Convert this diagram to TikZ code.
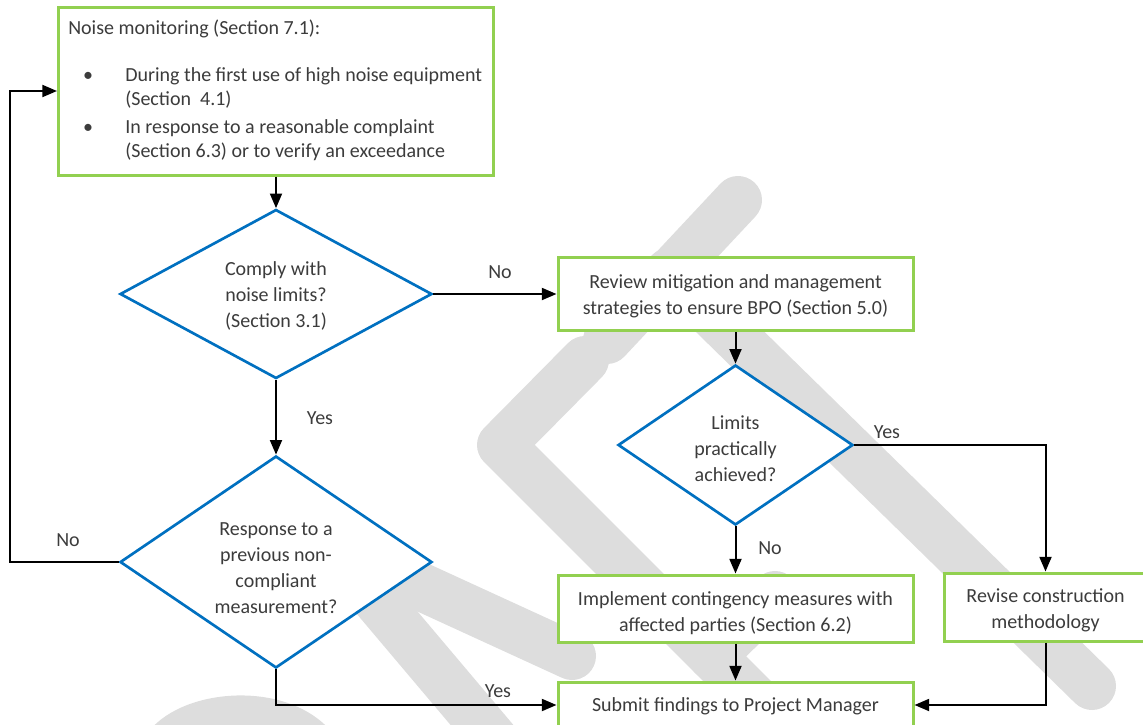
\documentclass[tikz,border=0pt]{standalone}
\usepackage{fontspec}
\setmainfont{Carlito}
\usetikzlibrary{shapes.geometric,arrows.meta}
\definecolor{boxgreen}{RGB}{146,208,80}
\definecolor{dblue}{RGB}{0,112,192}
\definecolor{txt}{RGB}{60,60,60}
\definecolor{wm}{RGB}{221,221,221}
\begin{document}
\begin{tikzpicture}[x=0.75pt,y=-0.75pt,
  box/.style={rectangle, draw=boxgreen, line width=2.25pt, fill=white, inner sep=0pt},
  dec/.style={diamond, draw=dblue, line width=2pt, fill=white, inner sep=0pt},
  lbl/.style={text=txt, font=\fontsize{15}{19.5}\selectfont, align=center, inner sep=0pt},
  arr/.style={draw=black, line width=1.5pt, -{Triangle[length=11pt,width=9pt]}},
  wmark/.style={draw=wm, line width=36pt, line cap=round, line join=round}]
\useasboundingbox (0,0) rectangle (1143,725);
% watermark
\draw[wmark] (738,200) -- (607,340);
\draw[wmark] (669,272) -- (1092,686);
\draw[wmark] (585,360) -- (501,445) -- (901,845);
\draw[wmark] (712,656) -- (775,595);
\draw[wmark] (330,545) -- (572,656);
\draw[wmark] (330,545) -- (520,770);
\fill[wm] (150,730) .. controls (185,688) and (285,680) .. (330,730) -- cycle;
% nodes
\node[box, minimum width=326.25pt, minimum height=126pt] (mon) at (276,91) {};
\node[lbl, anchor=base west] (mon0) at (68,34) {Noise monitoring (Section 7.1):};
\node[lbl, anchor=base] (b1) at (88,81) {\textbullet};
\node[lbl, anchor=base west] (m1a) at (125,81) {During the first use of high noise equipment};
\node[lbl, anchor=base west] (m1b) at (125,105) {(Section\ \ 4.1)};
\node[lbl, anchor=base] (b2) at (88,133) {\textbullet};
\node[lbl, anchor=base west] (m2a) at (125,133) {In response to a reasonable complaint};
\node[lbl, anchor=base west] (m2b) at (125,157) {(Section 6.3) or to verify an exceedance};
\node[dec, minimum width=234pt, minimum height=126.75pt] (d1) at (276,294) {};
\node[lbl] (d1t) at (276,296) {Comply with\\noise limits?\\(Section 3.1)};
\node[dec, minimum width=234pt, minimum height=159pt] (d2) at (276,562) {};
\node[lbl] (d2t) at (276,568) {Response to a\\previous non-\\compliant\\measurement?};
\node[box, minimum width=266.25pt, minimum height=54.75pt] (bpo) at (735.5,294) {};
\node[lbl] (bpot) at (735.5,296) {Review mitigation and management\\strategies to ensure BPO (Section 5.0)};
\node[dec, minimum width=176.25pt, minimum height=120pt] (d3) at (735.5,445) {};
\node[lbl] (d3t) at (735.5,449) {Limits\\practically\\achieved?};
\node[box, minimum width=266.25pt, minimum height=50.25pt] (impl) at (735.5,608.5) {};
\node[lbl] (implt) at (735.5,613.5) {Implement contingency measures with\\affected parties (Section 6.2)};
\node[box, minimum width=152.25pt, minimum height=51pt] (rev) at (1045.5,607) {};
\node[lbl] (revt) at (1045.5,610) {Revise construction\\methodology};
\node[box, minimum width=266.25pt, minimum height=34.5pt] (sub) at (735.5,705) {};
\node[lbl] (subt) at (735.5,706) {Submit findings to Project Manager};
% labels
\node[lbl] (l1) at (500,272) {No};
\node[lbl] (l2) at (320,418) {Yes};
\node[lbl] (l3) at (887,432) {Yes};
\node[lbl] (l4) at (770,548) {No};
\node[lbl] (l5) at (68,540) {No};
\node[lbl] (l6) at (498,691) {Yes};
% connectors
\coordinate (loop) at (10,562);
\draw[arr] (mon.south) -- (d1.north);
\draw[arr] (d1.east) -- (bpo.west);
\draw[arr] (d1.south) -- (d2.north);
\draw[arr] (bpo.south) -- (d3.north);
\draw[arr] (d3.east) -| (rev.north);
\draw[arr] (d3.south) -- (impl.north);
\draw[arr] (impl.south) -- (sub.north);
\draw[arr] (rev.south) |- (sub.east);
\draw[arr] (d2.south) |- (sub.west);
\draw[arr] (d2.west) -- (loop) |- (mon.west);
\end{tikzpicture}
\end{document}
